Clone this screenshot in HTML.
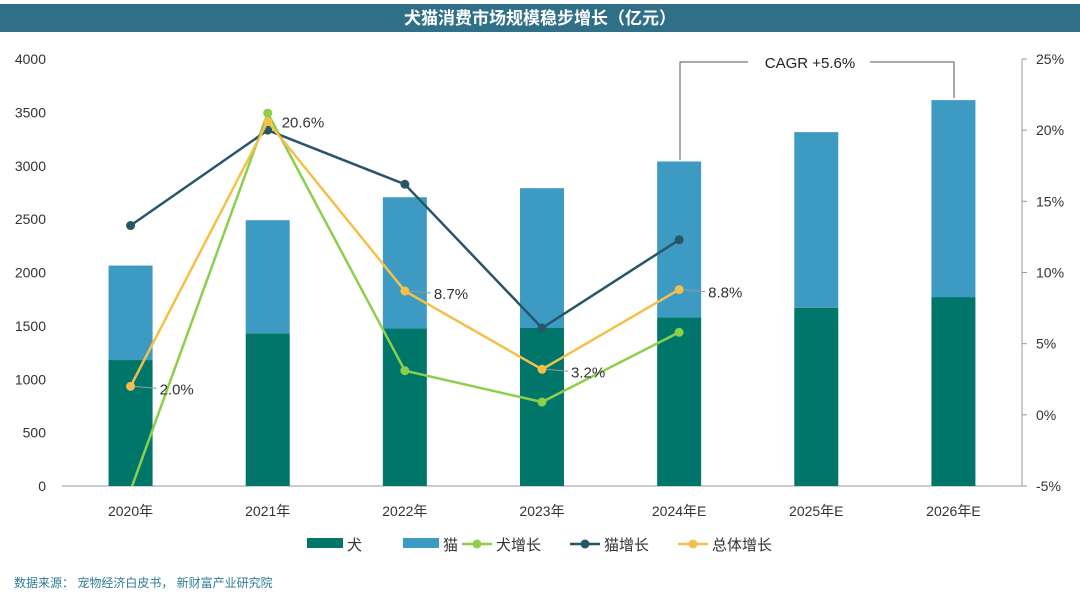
<!DOCTYPE html>
<html><head><meta charset="utf-8"><style>
body{margin:0;background:#fff;font-family:"Liberation Sans","Noto Sans CJK SC",sans-serif;}
svg text{font-family:"Liberation Sans","Noto Sans CJK SC",sans-serif;}
</style></head><body>
<svg id="chart" width="1080" height="601" viewBox="0 0 1080 601" xmlns="http://www.w3.org/2000/svg">
<rect x="0" y="0" width="1080" height="601" fill="#fff"/>
<rect x="0" y="4" width="1080" height="28" fill="#2f7088"/>
<text x="540" y="24" text-anchor="middle" fill="#fff" font-size="17" font-weight="bold">犬猫消费市场规模稳步增长（亿元）</text>
<g id="axes"></g>
<g id="bars"></g>
<g id="lines"></g>
<g id="labels"></g>
<g>
<polyline points="680,160 680,62 748,62" fill="none" stroke="#555" stroke-width="1"/>
<polyline points="870,62 954,62 954,98" fill="none" stroke="#555" stroke-width="1"/>
<text x="810" y="68" text-anchor="middle" font-size="15" fill="#222">CAGR +5.6%</text>
</g>
<g id="legend"></g>
<text x="14" y="587" font-size="12" fill="#2e7b99">数据来源：  宠物经济白皮书，  新财富产业研究院</text>
</svg>
<script>
const categories=["2020年","2021年","2022年","2023年","2024年E","2025年E","2026年E"];
const dogValues=[1180,1430,1475,1480,1580,1670,1770];
const catValues=[885,1060,1230,1310,1460,1645,1845];
const dogGrowth=[-5.3,21.2,3.1,0.9,5.8];
const catGrowth=[13.3,20.0,16.2,6.1,12.3];
const totalGrowth=[2.0,20.6,8.7,3.2,8.8];
const totalLabels=["2.0%","20.6%","8.7%","3.2%","8.8%"];
const leftTicks=[0,500,1000,1500,2000,2500,3000,3500,4000];
const rightTicks=[-5,0,5,10,15,20,25];

const NS="http://www.w3.org/2000/svg";
const X0=62,X1=1022,Y0=486,Y1=59;
const step=(X1-X0)/categories.length;
const xc=i=>X0+step*(i+0.5);
const yL=v=>Y0-(v/4000)*(Y0-Y1);
const yR=v=>Y0-((v+5)/30)*(Y0-Y1);
function mk(tag,attrs,parent,txt){const e=document.createElementNS(NS,tag);for(const k in attrs)e.setAttribute(k,attrs[k]);if(txt!==undefined)e.textContent=txt;document.getElementById(parent).appendChild(e);return e;}

// axes
let e=mk("line",{x1:X0,y1:Y0,x2:X1,y2:Y0,stroke:"#999"},"axes");


e=mk("line",{x1:X1,y1:Y1,x2:X1,y2:Y0,stroke:"#999"},"axes");


leftTicks.forEach(t=>{
 const el=mk("text",{x:46,y:yL(t)+5,"text-anchor":"end","font-size":"14",fill:"#333"},"axes",String(t));
 
 
});
rightTicks.forEach(t=>{
 const el=mk("text",{x:1036,y:yR(t)+5,"font-size":"14",fill:"#333"},"axes",t+"%");
 
 
 const tk=mk("line",{x1:X1,y1:yR(t),x2:X1+5,y2:yR(t),stroke:"#999"},"axes");
 
 
});
categories.forEach((c,i)=>{
 const el=mk("text",{x:xc(i),y:516,"text-anchor":"middle","font-size":"14",fill:"#333"},"axes",c);
 
 
});
// bars
const BW=44;
categories.forEach((c,i)=>{
 const d=mk("rect",{x:xc(i)-BW/2,y:yL(dogValues[i]),width:BW,height:Y0-yL(dogValues[i]),fill:"#00766a"},"bars");
 
 
 const tot=dogValues[i]+catValues[i];
 const ct=mk("rect",{x:xc(i)-BW/2,y:yL(tot),width:BW,height:yL(dogValues[i])-yL(tot),fill:"#3d9bc3"},"bars");
 
 
});
// lines
mk("clipPath",{id:"clp"},"lines");
mk("rect",{x:X0,y:Y1,width:X1-X0,height:Y0-Y1},"lines").remove();
const cp=document.getElementById("clp");const cr=document.createElementNS(NS,"rect");
cr.setAttribute("x",X0);cr.setAttribute("y",Y1);cr.setAttribute("width",X1-X0);cr.setAttribute("height",Y0-Y1);cp.appendChild(cr);
function series(vals,color,name){
 const pts=vals.map((v,i)=>xc(i)+","+yR(v)).join(" ");
 const pl=mk("polyline",{points:pts,fill:"none",stroke:color,"stroke-width":"2.5","clip-path":"url(#clp)"},"lines");
 
 
 vals.forEach((v,i)=>{
  if(yR(v)>Y0)return;
  const c=mk("circle",{cx:xc(i),cy:yR(v),r:4.5,fill:color},"lines");
  
  
 });
}
series(dogGrowth,"#8ccf4b","dog-growth");
series(catGrowth,"#27566a","cat-growth");
series(totalGrowth,"#f4c04a","total-growth");
// labels for total growth
totalLabels.forEach((t,i)=>{
 const x=xc(i),y=yR(totalGrowth[i]);
 if(i!==1){const l=mk("line",{x1:x+4,y1:y,x2:x+26,y2:y+2,stroke:"#999"},"labels");
  
  }
 const el=mk("text",{x:i===1?x+14:x+29,y:i===1?y+6:y+8,"font-size":"15",fill:"#333"},"labels",t);
 
 
});
// legend
const leg=[["犬","rect","#00766a",307],["猫","rect","#3d9bc3",403],["犬增长","line","#8ccf4b",462],["猫增长","line","#27566a",570],["总体增长","line","#f4c04a",678]];
leg.forEach(([t,k,c,x])=>{
 if(k==="rect"){const r=mk("rect",{x:x,y:538,width:36,height:10,fill:c},"legend");
  
  }
 else{const l=mk("line",{x1:x,y1:544,x2:x+30,y2:544,stroke:c,"stroke-width":"2.5"},"legend");
  
  
  const ci=mk("circle",{cx:x+15,cy:544,r:4.5,fill:c},"legend");
  
  }
 const tx=mk("text",{x:k==="rect"?x+40:x+34,y:550,"font-size":"15",fill:"#333"},"legend",t);
 
 
});
</script>
</body></html>
